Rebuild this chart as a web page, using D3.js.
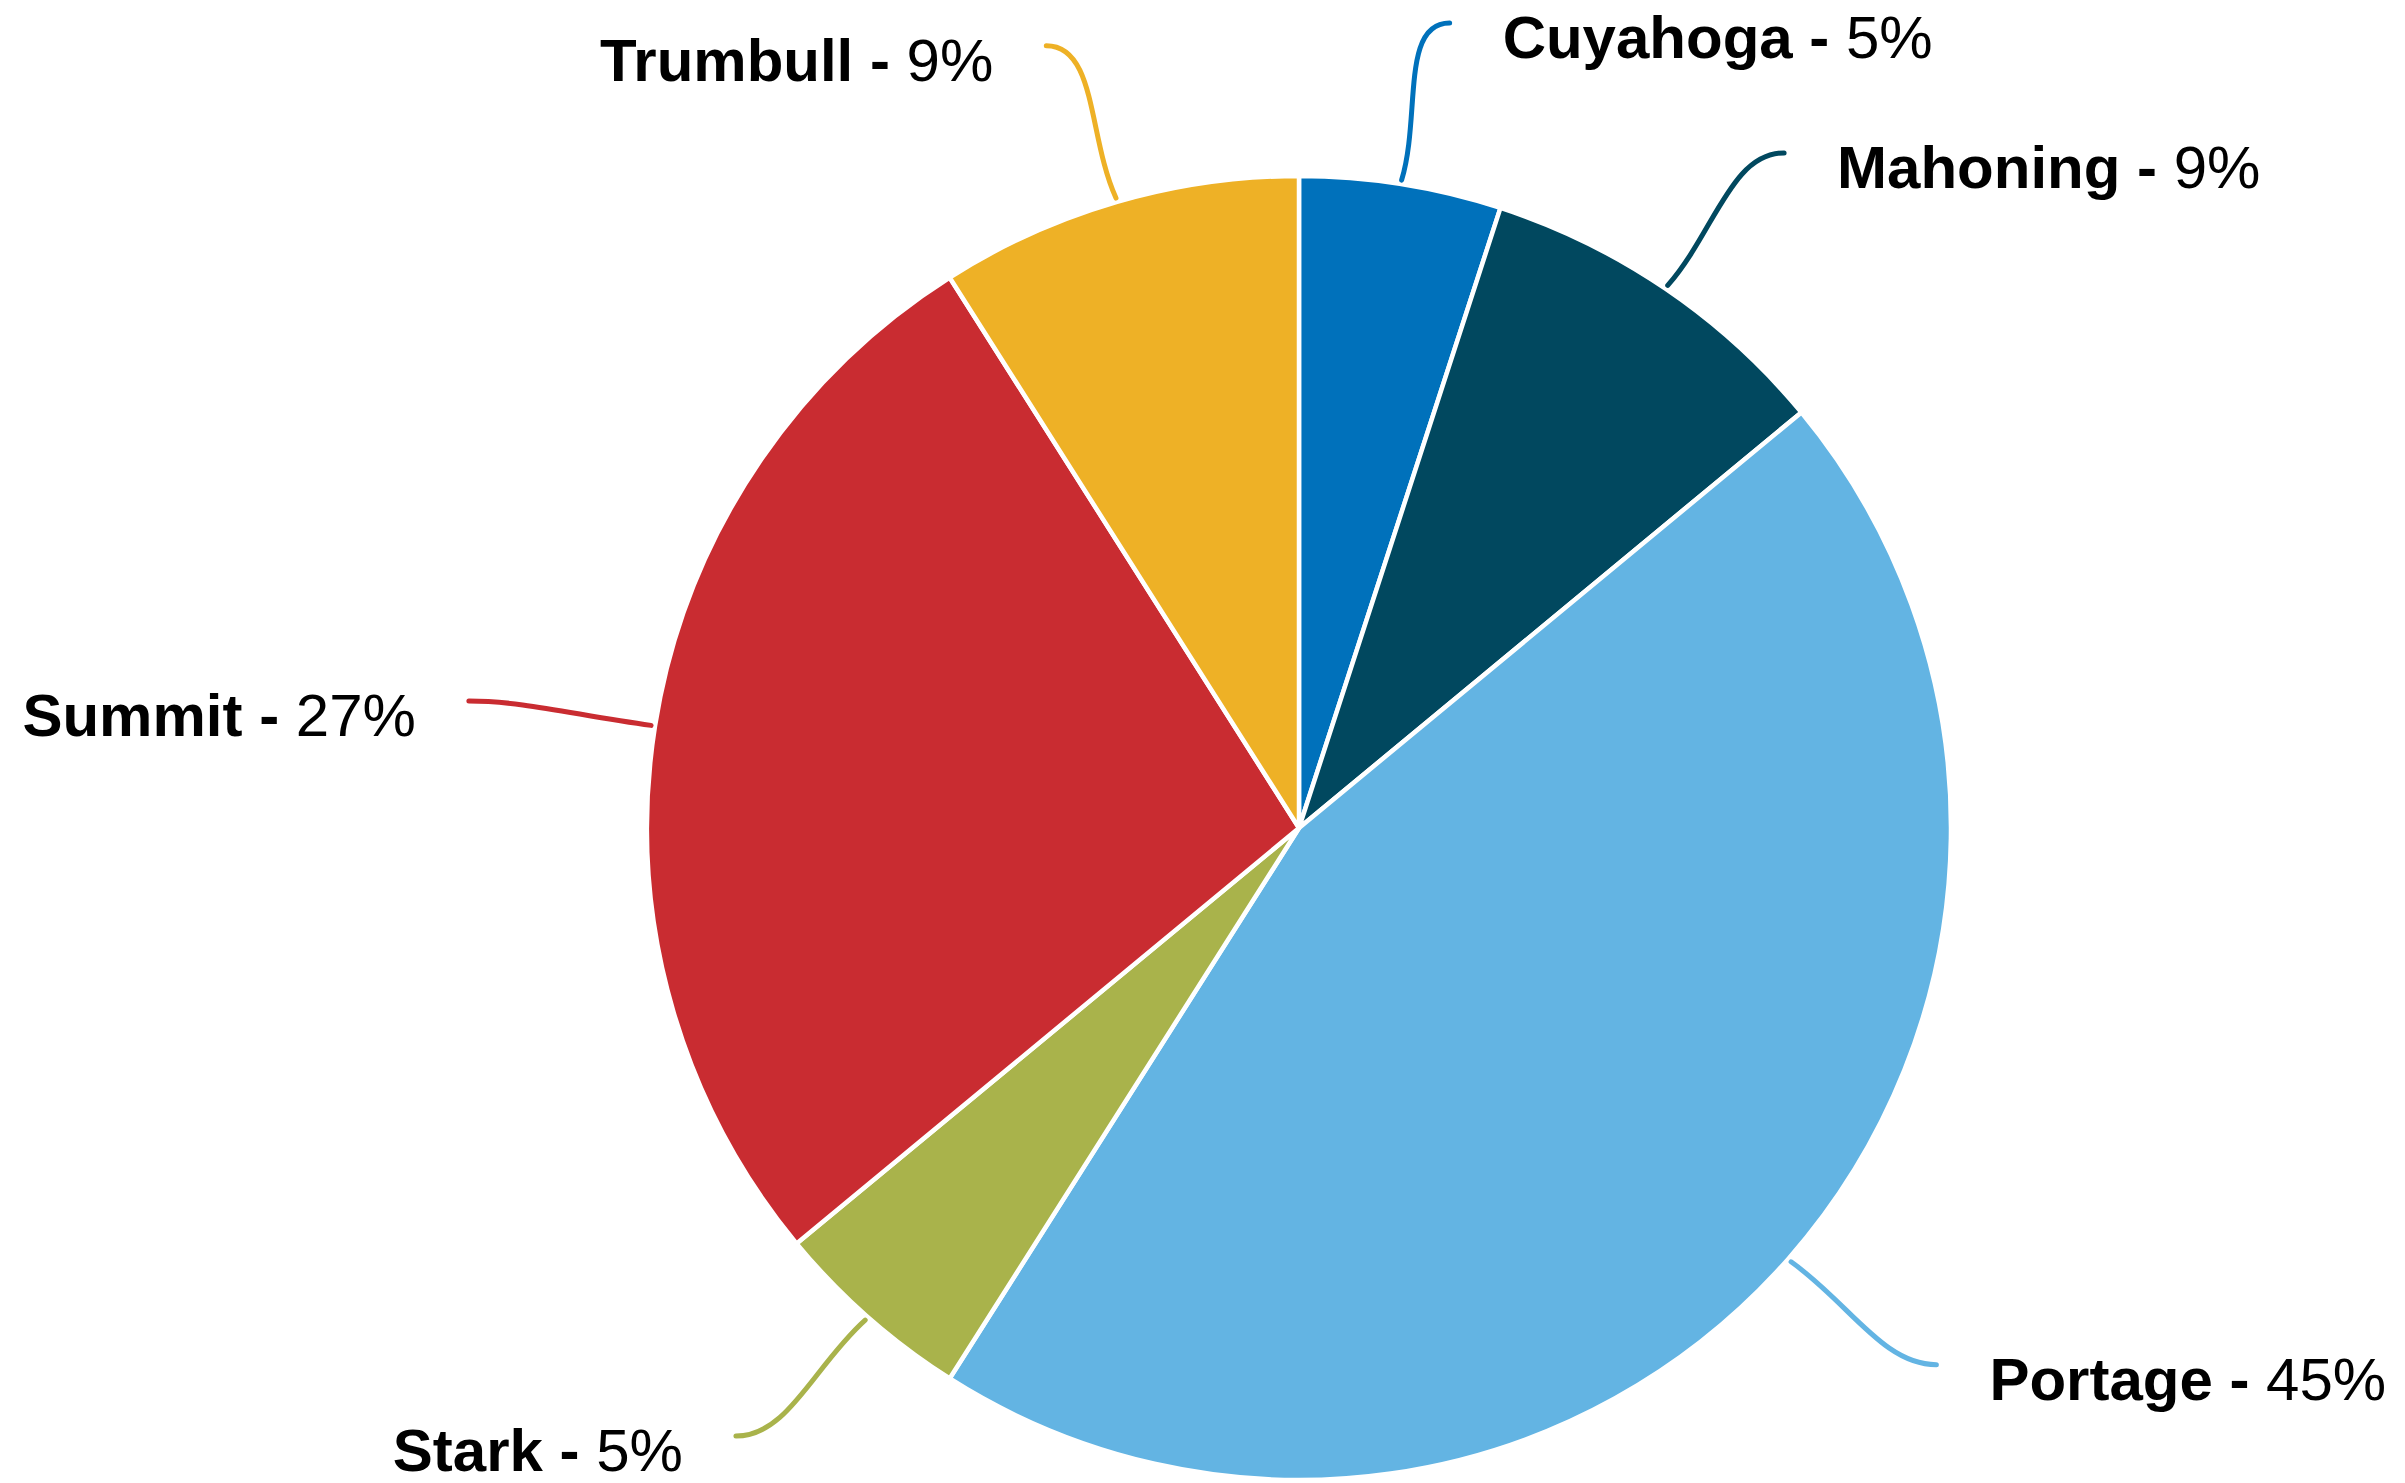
<!DOCTYPE html>
<html lang="en">
<head>
    <meta charset="UTF-8">
    <title>County Share</title>
    <script src="https://d3js.org/d3.v7.min.js"></script>
    <style>
        body {
            margin: 0;
            background: #fff;
        }
        .label {
            font-family: "Liberation Sans", Arial, sans-serif;
            font-size: 60px;
            fill: #000;
        }
        .label .name {
            font-weight: bold;
        }
    </style>
</head>
<body>
    <div id="chart"></div>
    <script>
        // county shares, clockwise from 12 o'clock
        const counties = ["Cuyahoga", "Mahoning", "Portage", "Stark", "Summit", "Trumbull"];
        const shares = [5, 9, 45, 5, 27, 9];
        const colors = ["#0071BB", "#01485F", "#63B4E3", "#A9B34B", "#C92C31", "#EEB126"];

        // label placement: nudge off the slice middle (degrees) and distance (x radius)
        const labelNudge = [1.6, 1.5, -1.3, 1.4, -0.3, -1.7];
        const labelDist = [1.256, 1.275, 1.278, 1.271, 1.288, 1.261];

        const width = 2405;
        const height = 1483;
        const cx = 1299, cy = 828;
        const radius = 652;

        const data = counties.map((c, i) => ({ county: c, share: shares[i], color: colors[i], i: i }));

        const svg = d3.select("#chart").append("svg")
            .attr("width", width)
            .attr("height", height);

        const g = svg.append("g")
            .attr("transform", `translate(${cx},${cy})`);

        const pie = d3.pie()
            .sort(null)
            .value(d => d.share);

        const arc = d3.arc()
            .innerRadius(0)
            .outerRadius(radius);

        const arcs = pie(data);

        g.selectAll(".slice")
            .data(arcs)
            .enter().append("path")
            .attr("class", "slice")
            .attr("d", arc)
            .attr("fill", d => d.data.color)
            .attr("stroke", "#fff")
            .attr("stroke-width", 4.5)
            .attr("stroke-linejoin", "round");

        // point at angle a (radians, clockwise from up) and distance r
        function polar(a, r) {
            return [Math.sin(a) * r, -Math.cos(a) * r];
        }

        // leader lines: leave the slice, end flat toward the label
        arcs.forEach(d => {
            const mid = (d.startAngle + d.endAngle) / 2;
            const side = Math.sin(mid) >= 0 ? 1 : -1;
            const s = polar(mid, radius + 4);
            const e = polar(mid + labelNudge[d.data.i] * Math.PI / 180, radius * labelDist[d.data.i]);
            const len = Math.hypot(e[0] - s[0], e[1] - s[1]);
            const c1 = [s[0] + (e[0] - s[0]) * 0.4, s[1] + (e[1] - s[1]) * 0.4];
            const c2 = [e[0] - side * len * 0.3, e[1]];

            const path = d3.path();
            path.moveTo(s[0], s[1]);
            path.bezierCurveTo(c1[0], c1[1], c2[0], c2[1], e[0], e[1]);

            g.append("path")
                .attr("d", path.toString())
                .attr("fill", "none")
                .attr("stroke", d.data.color)
                .attr("stroke-width", 5)
                .attr("stroke-linecap", "round");

            const t = g.append("text")
                .attr("class", "label")
                .attr("x", e[0] + side * 53)
                .attr("y", e[1] + 35)
                .attr("text-anchor", side > 0 ? "start" : "end");
            t.append("tspan").attr("class", "name").text(d.data.county + " - ");
            t.append("tspan").text(d.data.share + "%");
        });
    </script>
</body>
</html>
